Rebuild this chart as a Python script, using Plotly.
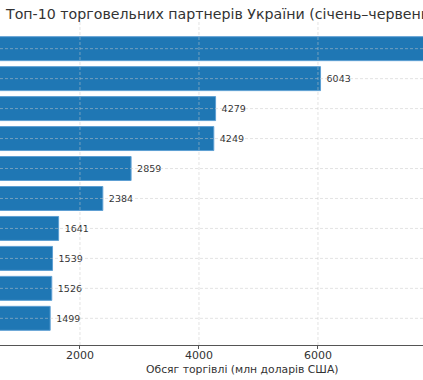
import plotly.graph_objects as go

countries = ["Польща", "Китай", "Туреччина", "Німеччина", "Румунія",
             "Італія", "Іспанія", "Угорщина", "Словаччина", "Нідерланди"]
values = [8200, 6043, 4279, 4249, 2859, 2384, 1641, 1539, 1526, 1499]
x_ticks = [2000, 4000, 6000]
title_text = "Топ-10 торговельних партнерів України (січень–червень 2024)"
x_title = "Обсяг торгівлі (млн доларів США)"

font_family = "DejaVu Sans"
text_color = "#333333"
bar_color = "#1f77b4"
grid_color = "rgba(200,200,200,0.5)"

fig = go.Figure()
fig.add_trace(go.Bar(
    x=values,
    y=countries,
    orientation="h",
    marker=dict(color=bar_color, line=dict(color="#5d9fd3", width=1)),
    text=["\u00a0" + str(v) for v in values],
    textposition="outside",
    textfont=dict(family=font_family, size=9.5, color=text_color),
    cliponaxis=True,
    hoverinfo="skip",
))

shapes = []
for c in countries:
    shapes.append(dict(type="line", xref="paper", x0=0, x1=1, yref="y", y0=c, y1=c,
                       line=dict(color=grid_color, width=1, dash="3px,2px"), layer="above"))
for t in x_ticks:
    shapes.append(dict(type="line", xref="x", x0=t, x1=t, yref="paper", y0=0, y1=1,
                       line=dict(color=grid_color, width=1, dash="3px,2px"), layer="above"))

fig.update_layout(
    width=423, height=380,
    margin=dict(l=0, r=0, t=22, b=35, autoexpand=False),
    paper_bgcolor="white", plot_bgcolor="white",
    bargap=0.2,
    showlegend=False,
    shapes=shapes,
    title=dict(text=title_text, x=6/423, xanchor="left", xref="container",
               y=1 - 14/380, yanchor="middle", yref="container",
               font=dict(family=font_family, size=14.2, color=text_color)),
    annotations=[dict(text=x_title, xref="paper", yref="paper", x=242/423, y=-24/323,
                      xanchor="center", yanchor="middle", showarrow=False,
                      font=dict(family=font_family, size=10.8, color=text_color))],
    xaxis=dict(range=[656, 7765], tickvals=x_ticks, ticktext=[str(t) for t in x_ticks],
               showgrid=False, zeroline=False, automargin=False,
               showline=True, linecolor="#555555", linewidth=1,
               ticks="outside", ticklen=3, tickcolor="#555555",
               ticklabelstandoff=-3,
               tickfont=dict(family=font_family, size=11, color=text_color)),
    yaxis=dict(categoryorder="array", categoryarray=countries, automargin=False,
               range=[9.89, -0.89], showticklabels=False, showgrid=False,
               zeroline=False, showline=False, ticks=""),
)

fig.write_html("out.html",
               config={"displayModeBar": False},
               post_script="document.body.style.margin='0';document.body.style.overflow='hidden';")
